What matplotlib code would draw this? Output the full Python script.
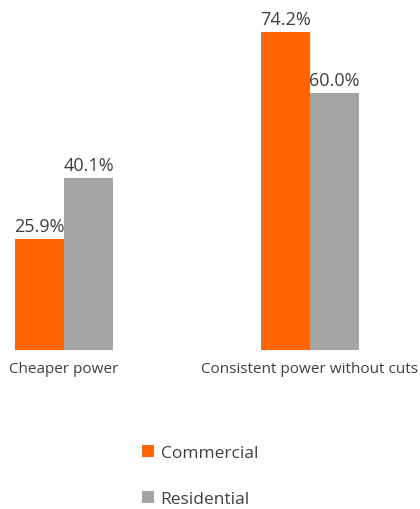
import matplotlib
matplotlib.use("Agg")
import matplotlib.pyplot as plt
import numpy as np

categories = ["Cheaper power", "Consistent power without cuts"]
series_names = ["Commercial", "Residential"]
commercial = [25.9, 74.2]
residential = [40.1, 60.0]
colors = ["#FF6600", "#A5A5A5"]
text_color = "#404040"

plt.rcParams['font.family'] = ['Open Sans', 'DejaVu Sans']

fig = plt.figure(figsize=(4.2, 5.1), dpi=100)
ax = fig.add_axes([0, 159/510, 1, 351/510])

x = np.arange(len(categories))
w = 0.2
b1 = ax.bar(x - w/2, commercial, w, color=colors[0], label=series_names[0])
b2 = ax.bar(x + w/2, residential, w, color=colors[1], label=series_names[1])

for bars, vals in [(b1, commercial), (b2, residential)]:
    for r, v in zip(bars, vals):
        ax.annotate(f"{v:.1f}%", (r.get_x() + r.get_width()/2, v),
                    xytext=(0, 3), textcoords="offset points",
                    ha="center", va="bottom", fontsize=13, color=text_color)

ax.set_xlim(-64/246, (420-64)/246)
ax.set_ylim(0, 351/4.286)
for s in ax.spines.values():
    s.set_visible(False)
ax.set_yticks([])
ax.set_xticks(x)
ax.set_xticklabels(categories, fontsize=11, color=text_color)
ax.tick_params(axis='x', length=0, pad=8)

fig.legend(handles=[b1, b2], loc="upper left", bbox_to_anchor=(126/420, 1 - 430/510),
           frameon=False, fontsize=12.5, labelcolor=text_color,
           handlelength=0.7, handleheight=0.7, handletextpad=0.4, labelspacing=1.75)

fig.savefig("out.png", dpi=100)
